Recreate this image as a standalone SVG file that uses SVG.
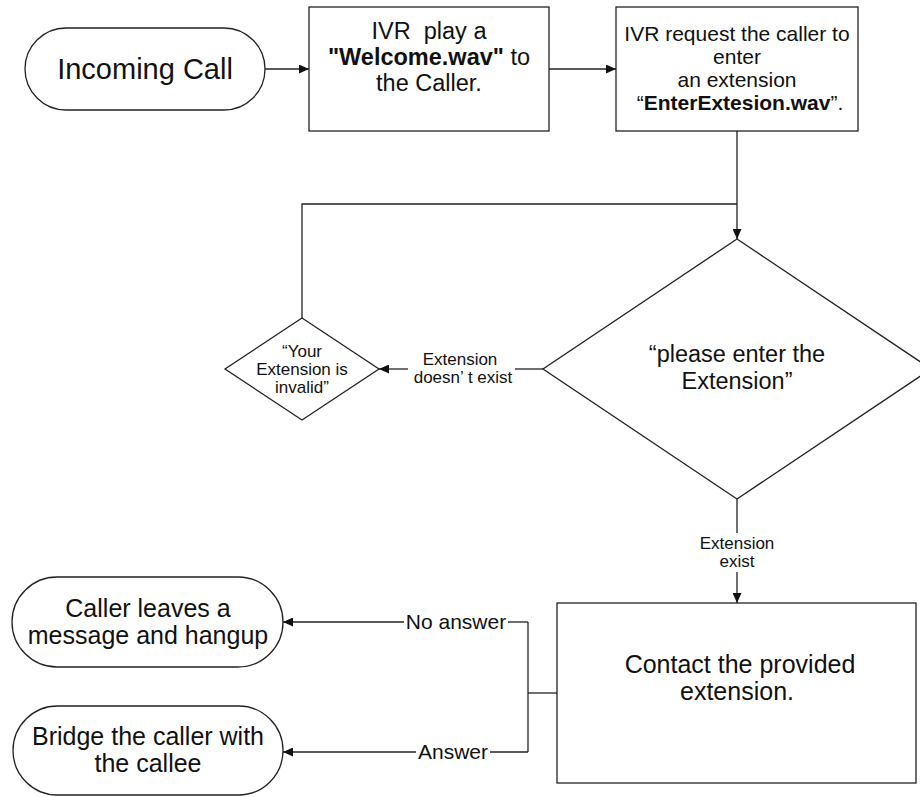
<svg xmlns="http://www.w3.org/2000/svg" width="920" height="797" viewBox="0 0 920 797">
  <defs>
    <marker id="arrow" markerUnits="userSpaceOnUse" markerWidth="11" markerHeight="9" refX="10" refY="4.5" orient="auto">
      <path d="M0,0 L10,4.5 L0,9 z" fill="#111"/>
    </marker>
    <style>
      .shape { fill: #fff; stroke: #222; stroke-width: 1.3; }
      .wire { fill: none; stroke: #222; stroke-width: 1.3; }
      text { font-family: "Liberation Sans", Arial, sans-serif; fill: #111; text-anchor: middle; }
      .big { font-size: 29px; }
      .mid { font-size: 23.5px; }
      .box3 { font-size: 21px; }
      .term { font-size: 25px; }
      .small { font-size: 17px; }
      .edge { font-size: 21px; }
      .b { font-weight: bold; }
    </style>
  </defs>
  <rect width="920" height="797" fill="#fff"/>

  <!-- connectors and their labels -->
  <g id="connectors">
    <path class="wire" d="M265,69 H309" marker-end="url(#arrow)"/>
    <path class="wire" d="M549,69 H616" marker-end="url(#arrow)"/>
    <path class="wire" d="M737,131 V239" marker-end="url(#arrow)"/>
    <path class="wire" d="M302,318 V204 H737"/>
    <path class="wire" d="M543,369 H515"/>
    <path class="wire" d="M408,369 H379" marker-end="url(#arrow)"/>
    <text class="small" x="460" y="365">Extension</text>
    <text class="small" x="463" y="383">doesn’ t exist</text>
    <path class="wire" d="M737,499 V533"/>
    <path class="wire" d="M737,572 V603" marker-end="url(#arrow)"/>
    <text class="small" x="737" y="549">Extension</text>
    <text class="small" x="737" y="567">exist</text>
    <path class="wire" d="M557,693 H528"/>
    <path class="wire" d="M528,622 V752"/>
    <path class="wire" d="M528,622 H508"/>
    <path class="wire" d="M404,622 H283" marker-end="url(#arrow)"/>
    <text class="edge" x="456" y="629">No answer</text>
    <path class="wire" d="M528,752 H490"/>
    <path class="wire" d="M416,752 H283" marker-end="url(#arrow)"/>
    <text class="edge" x="453" y="759">Answer</text>
  </g>

  <g id="incoming-call">
    <rect class="shape" x="25" y="28" width="240" height="82" rx="41" ry="41"/>
    <text class="big" x="145" y="79">Incoming Call</text>
  </g>

  <g id="play-welcome">
    <rect class="shape" x="309" y="7" width="240" height="124"/>
    <text class="mid" x="429" y="39" xml:space="preserve">IVR  play a</text>
    <text class="mid" x="429" y="65"><tspan class="b">"Welcome.wav"</tspan> to</text>
    <text class="mid" x="429" y="91">the Caller.</text>
  </g>

  <g id="request-extension">
    <rect class="shape" x="616" y="7" width="242" height="124"/>
    <text class="box3" x="737" y="41">IVR request the caller to</text>
    <text class="box3" x="737" y="64">enter</text>
    <text class="box3" x="737" y="87">an extension</text>
    <text class="box3" x="740" y="110">“<tspan class="b">EnterExtesion.wav</tspan>”.</text>
  </g>

  <g id="enter-extension">
    <polygon class="shape" points="737,239 931,369 737,499 543,369"/>
    <text class="mid" x="737" y="362">“please enter the</text>
    <text class="mid" x="737" y="389">Extension”</text>
  </g>

  <g id="invalid-extension">
    <polygon class="shape" points="302,318 379,369 302,420 225,369"/>
    <text class="small" x="302" y="357">“Your</text>
    <text class="small" x="302" y="375">Extension is</text>
    <text class="small" x="302" y="393">invalid”</text>
  </g>

  <g id="contact-extension">
    <rect class="shape" x="557" y="603" width="359" height="180"/>
    <text class="term" x="740" y="673">Contact the provided</text>
    <text class="term" x="737" y="700">extension.</text>
  </g>

  <g id="leave-message">
    <rect class="shape" x="12" y="577" width="271" height="90" rx="45" ry="45"/>
    <text class="term" x="148" y="617">Caller leaves a</text>
    <text class="term" x="148" y="644">message and hangup</text>
  </g>

  <g id="bridge-callee">
    <rect class="shape" x="13" y="706" width="270" height="89" rx="44.5" ry="44.5"/>
    <text class="term" x="148" y="745">Bridge the caller with</text>
    <text class="term" x="148" y="772">the callee</text>
  </g>
</svg>
